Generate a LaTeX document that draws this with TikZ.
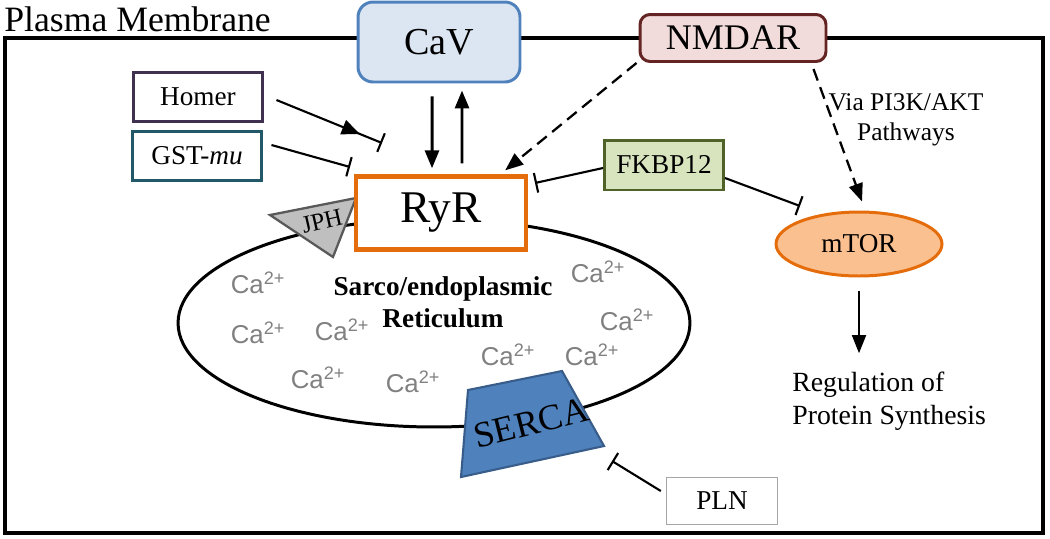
\documentclass[tikz,border=0pt]{standalone}
\usepackage{fontspec}
\setmainfont{Liberation Serif}
\newfontfamily\casans{Liberation Sans}
\usetikzlibrary{arrows.meta,shapes.geometric,decorations.markings}
\definecolor{cavfill}{HTML}{DCE6F2}
\definecolor{cavline}{HTML}{4F81BD}
\definecolor{nmdarfill}{HTML}{F2DCDB}
\definecolor{nmdarline}{HTML}{632423}
\definecolor{homerline}{HTML}{403151}
\definecolor{gstline}{HTML}{215968}
\definecolor{ryrline}{HTML}{E46C0A}
\definecolor{fkbpfill}{HTML}{D7E4BD}
\definecolor{fkbpline}{HTML}{4F6228}
\definecolor{mtorfill}{HTML}{FAC090}
\definecolor{plnline}{HTML}{A6A6A6}
\definecolor{jphfill}{HTML}{BFBFBF}
\definecolor{jphline}{HTML}{595959}
\definecolor{sercafill}{HTML}{4F81BD}
\definecolor{sercaline}{HTML}{385D8A}
\definecolor{cagray}{HTML}{808080}

\begin{document}
\begin{tikzpicture}[x=0.02cm, y=-0.02cm,
    every node/.style={font=\fontsize{15.5}{17}\selectfont, align=center},
    protein/.style={draw, line width=1.7pt, fill=white, minimum height=0.98cm},
    calcium/.style={text=cagray, font=\casans\fontsize{14.7}{16}\selectfont},
    act/.style={line width=1.7pt, -{Triangle[length=0.36cm,width=0.28cm]}},
    dashact/.style={line width=1.3pt, dash pattern=on 7pt off 4pt, -{Triangle[length=0.36cm,width=0.28cm]}},
    inhib/.style={line width=1.2pt, -{Bar[width=0.4cm]}}]
\useasboundingbox (0,0) rectangle (1050,538);

% plasma membrane
\draw[line width=2.3pt] (5,38) rectangle (1043,533);
\node[anchor=base west, inner sep=0, font=\fontsize{20.3}{22}\selectfont] (pm) at (4,31) {Plasma Membrane};

% reticulum
\node[draw, ellipse, line width=1.7pt, minimum width=10.24cm, minimum height=4.16cm] (er) at (434,323) {};
\node[font=\bfseries\fontsize{15.5}{18.2}\selectfont] (erlabel) at (443,302) {Sarco/endoplasmic\\Reticulum};
\foreach \px/\py [count=\i] in {258/283, 258/333, 342/330, 318/378, 413/382, 508/355, 592/355, 627/320, 598/272}
    \node[calcium] (ca\i) at (\px,\py) {Ca\textsuperscript{2+}};

% JPH
\filldraw[fill=jphfill, draw=jphline, line width=1.3pt] (270,215) -- (356,198) -- (333,257) -- cycle;
\node[rotate=13, font=\fontsize{14}{15}\selectfont] (jph) at (322,221) {JPH};

% SERCA
\filldraw[fill=sercafill, draw=sercaline, line width=1.2pt] (468,390) -- (562,371) -- (604,446) -- (461,477) -- cycle;
\node[rotate=14, font=\fontsize{20.7}{22}\selectfont] (serca) at (531,423) {SERCA};

% proteins
\node[protein, draw=cavline, fill=cavfill, rounded corners=0.3cm, minimum width=3.24cm, minimum height=1.6cm, font=\fontsize{21.7}{23}\selectfont] (cav) at (439,42) {CaV};
\node[protein, draw=nmdarline, fill=nmdarfill, rounded corners=0.2cm, minimum width=3.72cm, minimum height=0.94cm, font=\fontsize{20.5}{22}\selectfont] (nmdar) at (733,38) {NMDAR};
\node[protein, draw=homerline, minimum width=2.6cm] (homer) at (198,97) {Homer};
\node[protein, draw=gstline, minimum width=2.6cm] (gst) at (197,156) {GST-\textit{mu}};
\node[protein, draw=ryrline, line width=2.5pt, minimum width=3.4cm, minimum height=1.46cm, font=\fontsize{25.8}{27}\selectfont] (ryr) at (441,213) {RyR};
\node[protein, draw=fkbpline, fill=fkbpfill, minimum width=2.38cm, minimum height=1.0cm] (fkbp) at (664,165) {FKBP12};
\node[protein, draw=ryrline, fill=mtorfill, ellipse, inner sep=0, minimum width=3.32cm, minimum height=1.28cm] (mtor) at (859,244) {mTOR};
\node[protein, draw=plnline, line width=0.8pt, minimum width=2.22cm, minimum height=0.94cm] (pln) at (722,501) {PLN};
\node[anchor=west, align=left, inner sep=0, font=\fontsize{15.8}{19}\selectfont] (synth) at (792,401) {Regulation of\\Protein Synthesis};
\node[font=\fontsize{14.5}{17}\selectfont] (via) at (906,120) {Via PI3K/AKT\\Pathways};

% free ends
\coordinate (homerend) at (382,143);
\coordinate (gstend) at (350,167);
\coordinate (fkbpend) at (535,183);
\coordinate (mtorend) at (800,206);
\coordinate (plnend) at (612,461);

% connectors
\draw[act] ([xshift=-0.14cm,yshift=-0.26cm]cav.south) -- ([xshift=-0.18cm,yshift=0.12cm]ryr.north);
\draw[act] ([xshift=0.42cm,yshift=0.22cm]ryr.north) -- ([xshift=0.46cm,yshift=-0.14cm]cav.south);
\draw[dashact] ([xshift=-0.04cm]nmdar.south west) -- ([xshift=-0.46cm,yshift=0.08cm]ryr.north east);
\draw[dashact] ([xshift=-0.28cm,yshift=-0.12cm]nmdar.south east) -- ([xshift=0.06cm,yshift=0.18cm]mtor.north);
\draw[inhib, postaction={decorate}, decoration={markings, mark=at position 0.79 with {\arrow{Triangle[length=0.36cm,width=0.3cm]}}}] ([xshift=0.24cm,yshift=-0.06cm]homer.east) -- (homerend);
\draw[inhib] ([xshift=0.16cm,yshift=0.22cm]gst.east) -- (gstend);
\draw[inhib] ([yshift=-0.06cm]fkbp.west) -- (fkbpend);
\draw[inhib] ([yshift=-0.26cm]fkbp.east) -- (mtorend);
\draw[inhib] ([xshift=-0.1cm,yshift=0.2cm]pln.west) -- (plnend);
\draw[line width=1pt, -{Triangle[length=0.36cm,width=0.28cm]}] ([yshift=-0.28cm]mtor.south) -- ([yshift=0.36cm]synth.north -| mtor.south);
\end{tikzpicture}
\end{document}
